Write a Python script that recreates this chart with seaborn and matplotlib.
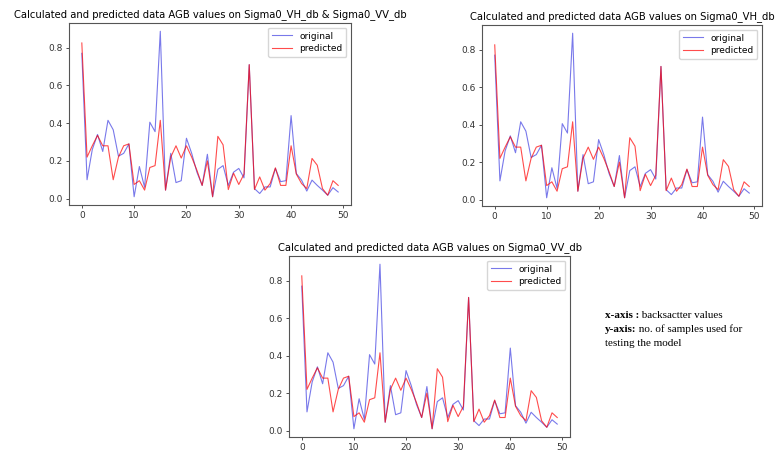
import numpy as np
import pandas as pd
import matplotlib
matplotlib.use("Agg")
import matplotlib.pyplot as plt
import seaborn as sns

# valeurs
sample_idx = list(range(50))
original = [0.77, 0.10, 0.26, 0.34, 0.25, 0.415, 0.365, 0.225, 0.24, 0.29,
            0.01, 0.17, 0.06, 0.405, 0.355, 0.887, 0.045, 0.24, 0.085, 0.095,
            0.32, 0.24, 0.14, 0.07, 0.235, 0.01, 0.155, 0.175, 0.07, 0.14,
            0.16, 0.11, 0.71, 0.053, 0.027, 0.062, 0.062, 0.16, 0.09, 0.095,
            0.44, 0.133, 0.098, 0.04, 0.098, 0.07, 0.045, 0.018, 0.058, 0.035]
predicted = [0.825, 0.22, 0.28, 0.335, 0.28, 0.28, 0.10, 0.22, 0.28, 0.29,
             0.075, 0.095, 0.045, 0.165, 0.175, 0.415, 0.045, 0.22, 0.28, 0.215,
             0.28, 0.22, 0.15, 0.07, 0.20, 0.01, 0.33, 0.285, 0.048, 0.135,
             0.075, 0.13, 0.71, 0.048, 0.115, 0.045, 0.08, 0.163, 0.07, 0.07,
             0.28, 0.13, 0.08, 0.053, 0.213, 0.177, 0.053, 0.018, 0.095, 0.07]

titles = ["Calculated and predicted data AGB values on Sigma0_VH_db & Sigma0_VV_db",
          "Calculated and predicted data AGB values on Sigma0_VH_db",
          "Calculated and predicted data AGB values on Sigma0_VV_db"]

df = pd.DataFrame({"idx": sample_idx, "original": original, "predicted": predicted})

W, H = 775, 453
fig = plt.figure(figsize=(W / 100, H / 100), dpi=100)

# position des axes en pixels (gauche, haut, droite, bas)
boxes = [(69, 23, 351, 205), (482, 25, 762, 206), (289, 256, 570, 437)]

for (l, t, r, b), title in zip(boxes, titles):
    ax = fig.add_axes([l / W, 1 - b / H, (r - l) / W, (b - t) / H])
    sns.lineplot(data=df, x="idx", y="original", ax=ax, color="#2020dd", alpha=0.6,
                 lw=0.8, label="original")
    sns.lineplot(data=df, x="idx", y="predicted", ax=ax, color="red", alpha=0.7,
                 lw=0.8, label="predicted")
    ax.set_xlabel("")
    ax.set_ylabel("")
    ax.set_xticks([0, 10, 20, 30, 40, 50])
    ax.set_yticks([0.0, 0.2, 0.4, 0.6, 0.8])
    ax.tick_params(labelsize=6.5, length=2.5, width=0.6, pad=2, colors="#333333")
    for s in ax.spines.values():
        s.set_color("#555555")
        s.set_linewidth(0.8)
    ax.set_title(title, fontsize=7.2, pad=4)
    ax.legend(loc="upper right", fontsize=6.5, frameon=True, handlelength=2.2,
              borderpad=0.45, labelspacing=0.35)

# note a droite
t1 = fig.text(605 / W, 1 - 318 / H, "x-axis :", family="Liberation Serif",
              fontweight="bold", fontsize=8)
plt.annotate(" backsactter values", xy=(1, 0), xycoords=t1, va="bottom",
             family="Liberation Serif", fontsize=8)
t2 = fig.text(605 / W, 1 - 332 / H, "y-axis:", family="Liberation Serif",
              fontweight="bold", fontsize=8)
plt.annotate(" no. of samples used for", xy=(1, 0), xycoords=t2, va="bottom",
             family="Liberation Serif", fontsize=8)
fig.text(605 / W, 1 - 346 / H, "testing the model", family="Liberation Serif",
         fontsize=8)

fig.savefig("out.png", dpi=100)
